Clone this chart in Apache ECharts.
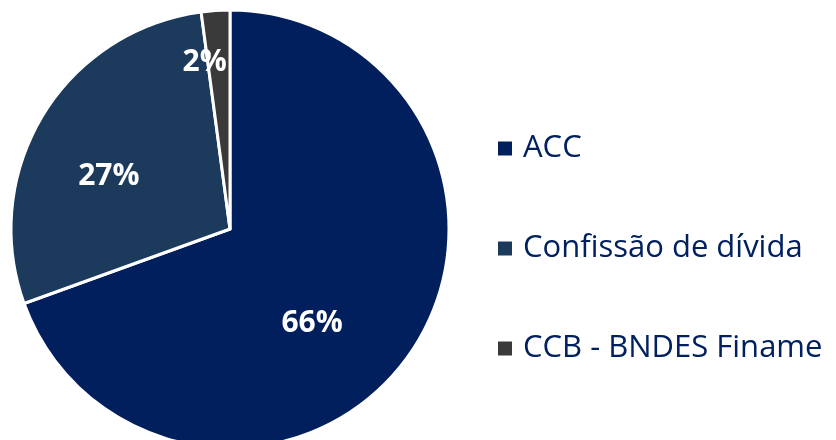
<!DOCTYPE html>
<html>
<head>
<meta charset="utf-8">
<script src="https://cdn.jsdelivr.net/npm/echarts@6/dist/echarts.min.js"></script>
<style>
  html, body { margin: 0; padding: 0; background: #fff; }
  #chart { width: 836px; height: 440px; }
</style>
</head>
<body>
<div id="chart"></div>
<script>
// dados do gráfico
const categories = ['ACC', 'Confissão de dívida', 'CCB - BNDES Finame']
const values = [66, 27, 2]
const colors = ['#001f5c', '#1b3a5c', '#3a3a3a']
// deslocamento dos rótulos (px) em relação à posição interna padrão
const labelShift = [[-10, 30], [-25, 6], [-18, -54]]

const chart = echarts.init(document.getElementById('chart'))

const seriesData = categories.map((name, i) => ({
  name: name,
  value: values[i],
  itemStyle: { color: colors[i] }
}))

const option = {
  animation: false,
  legend: {
    orient: 'vertical',
    left: 496,
    top: 133,
    padding: 0,
    itemWidth: 16,
    itemHeight: 16,
    itemGap: 69,
    icon: 'rect',
    textStyle: {
      fontFamily: 'Open Sans',
      fontSize: 31,
      color: '#002060',
      padding: [0, 0, 0, 5]
    },
    data: categories
  },
  series: [
    {
      type: 'pie',
      center: [230, 229],
      radius: 219,
      startAngle: 90,
      clockwise: true,
      itemStyle: { borderColor: '#fff', borderWidth: 3 },
      label: {
        show: true,
        position: 'inside',
        formatter: '{c}%',
        color: '#fff',
        fontFamily: 'Open Sans',
        fontWeight: 'bold',
        fontSize: 30
      },
      labelLayout: (p) => ({
        dx: labelShift[p.dataIndex][0],
        dy: labelShift[p.dataIndex][1]
      }),
      emphasis: { disabled: true },
      data: seriesData
    }
  ]
}

chart.setOption(option)
</script>
</body>
</html>
